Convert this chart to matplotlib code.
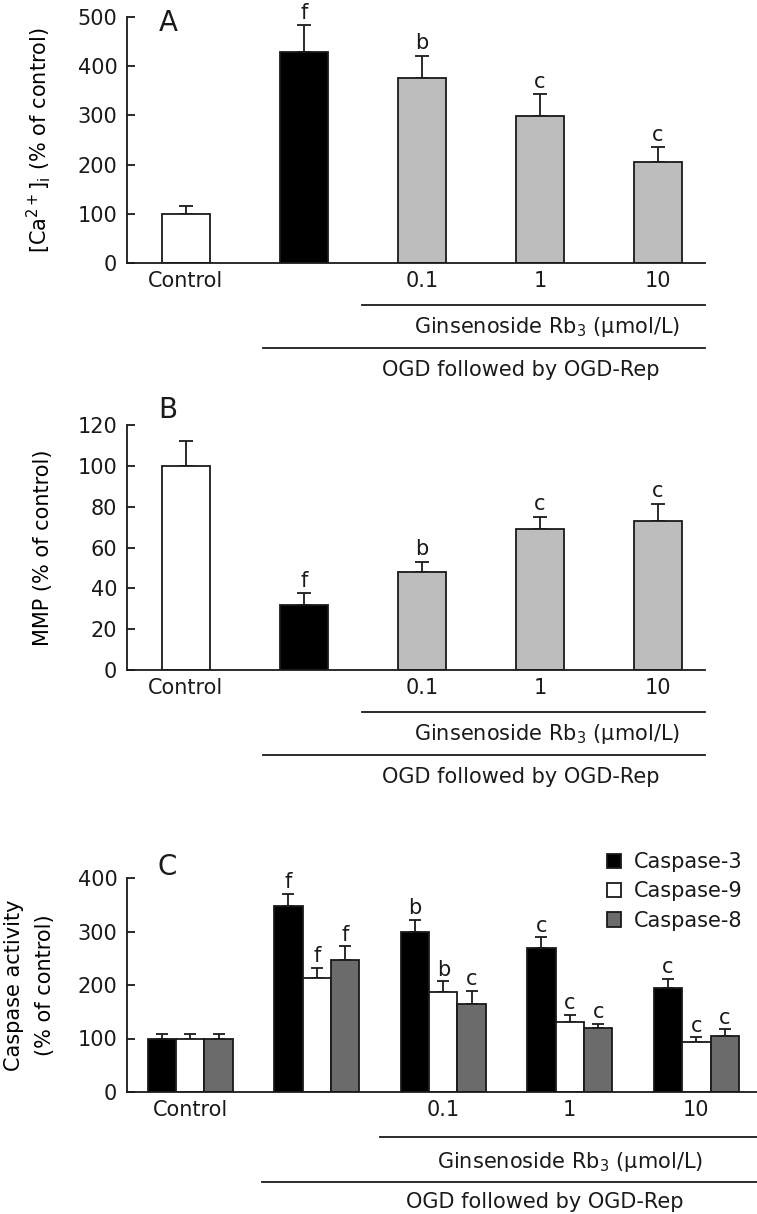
import matplotlib
matplotlib.use('Agg')
import matplotlib.pyplot as plt
from matplotlib.transforms import blended_transform_factory
import numpy as np

plt.rcParams['font.family'] = ['DejaVu Sans']
plt.rcParams['mathtext.fontset'] = 'dejavusans'
plt.rcParams['mathtext.default'] = 'regular'
plt.rcParams['text.color'] = '#1a1a1a'
plt.rcParams['xtick.color'] = '#1a1a1a'
plt.rcParams['ytick.color'] = '#1a1a1a'

W, H = 757, 1214
DPI = 100

# --- data ---
groups = ['Control', '', '0.1', '1', '10']

ca_mean = [99, 428, 376, 299, 205]
ca_err = [17, 55, 45, 44, 30]
ca_sig = ['', 'f', 'b', 'c', 'c']

mmp_mean = [100, 32, 48, 69, 73]
mmp_err = [12, 5.5, 5, 6, 8.5]
mmp_sig = ['', 'f', 'b', 'c', 'c']

casp_names = ['Caspase-3', 'Caspase-9', 'Caspase-8']
casp3 = [100, 347, 300, 270, 194]
casp3_err = [8, 23, 22, 19, 18]
casp3_sig = ['', 'f', 'b', 'c', 'c']
casp9 = [100, 214, 187, 131, 93]
casp9_err = [8, 18, 20, 13, 9]
casp9_sig = ['', 'f', 'b', 'c', 'c']
casp8 = [100, 247, 164, 120, 105]
casp8_err = [8, 25, 25, 8, 12]
casp8_sig = ['', 'f', 'c', 'c', 'c']

single_colors = ['white', 'black', '#bdbdbd', '#bdbdbd', '#bdbdbd']
casp_colors = ['black', 'white', '#6b6b6b']

FS = 15
LW = 1.3
INK = '#1a1a1a'


def px_axes(fig, left, top, right, bottom):
    return fig.add_axes([left / W, 1 - bottom / H, (right - left) / W, (bottom - top) / H])


def style_axes(ax):
    for s in ('top', 'right'):
        ax.spines[s].set_visible(False)
    for s in ('left', 'bottom'):
        ax.spines[s].set_linewidth(LW)
        ax.spines[s].set_color(INK)
    ax.tick_params(axis='y', direction='in', length=6, width=LW, labelsize=FS, pad=7)
    ax.tick_params(axis='x', length=0, labelsize=FS, pad=6)


def bracket_lines(ax, x1, x2, xend, y_line1, y_text1, y_line2, y_text2, xt1, xt2):
    tr = blended_transform_factory(ax.transData, ax.transAxes)
    ax.plot([x1, xend], [y_line1, y_line1], color=INK, lw=LW, transform=tr, clip_on=False)
    ax.plot([x2, xend], [y_line2, y_line2], color=INK, lw=LW, transform=tr, clip_on=False)
    ax.text(xt1, y_text1, r'Ginsenoside Rb$_3$ (μmol/L)', transform=tr, ha='center', va='center',
            fontsize=FS)
    ax.text(xt2, y_text2, 'OGD followed by OGD-Rep', transform=tr, ha='center', va='center',
            fontsize=FS)


def single_panel(ax, means, errs, sigs, ylim, yticks, ylabel, letter, letter_y):
    x = np.arange(len(groups))
    ax.bar(x, means, width=0.41, color=single_colors, edgecolor=INK, linewidth=LW, zorder=2)
    ax.errorbar(x, means, yerr=[np.zeros(len(errs)), errs], fmt='none', ecolor=INK,
                elinewidth=LW, capsize=5, capthick=LW, zorder=1)
    for xi, m, e, s in zip(x, means, errs, sigs):
        if s:
            ax.text(xi, m + e + ylim[1] * 0.01, s, ha='center', va='bottom', fontsize=FS)
    ax.set_xlim(-0.5, 4.4)
    ax.set_ylim(*ylim)
    ax.set_yticks(yticks)
    ax.set_xticks(x)
    ax.set_xticklabels(groups)
    ax.set_ylabel(ylabel, fontsize=FS, labelpad=18)
    ax.text(-0.15, letter_y, letter, ha='center', va='center', fontsize=20, clip_on=False)
    style_axes(ax)
    bracket_lines(ax, 1.49, 0.65, 4.4, -0.172, -0.262, -0.347, -0.435, 3.06, 2.84)


fig = plt.figure(figsize=(W / DPI, H / DPI), dpi=DPI)

# Panel A
axA = px_axes(fig, 127, 17, 705, 263)
single_panel(axA, ca_mean, ca_err, ca_sig, (0, 500), [0, 100, 200, 300, 400, 500],
             r'[Ca$^{2+}$]$_{i}$ (% of control)', 'A', 488)

# Panel B
axB = px_axes(fig, 127, 425, 705, 670)
single_panel(axB, mmp_mean, mmp_err, mmp_sig, (0, 120), [0, 20, 40, 60, 80, 100, 120],
             'MMP (% of control)', 'B', 127.5)

# Panel C
axC = px_axes(fig, 127, 878, 757, 1092)
x = np.arange(len(groups))
bw = 0.225
series = [(casp3, casp3_err, casp3_sig), (casp9, casp9_err, casp9_sig), (casp8, casp8_err, casp8_sig)]
for i, ((vals, errs, sigs), col, name) in enumerate(zip(series, casp_colors, casp_names)):
    xs = x + (i - 1) * bw
    axC.bar(xs, vals, width=bw, color=col, edgecolor=INK, linewidth=LW, zorder=2, label=name)
    axC.errorbar(xs, vals, yerr=[np.zeros(len(errs)), errs], fmt='none', ecolor=INK,
                 elinewidth=LW, capsize=4, capthick=LW, zorder=1)
    for xi, m, e, s in zip(xs, vals, errs, sigs):
        if s:
            axC.text(xi, m + e + 3, s, ha='center', va='bottom', fontsize=FS)
axC.set_xlim(-0.5, 4.48)
axC.set_ylim(0, 400)
axC.set_yticks([0, 100, 200, 300, 400])
axC.set_xticks(x)
axC.set_xticklabels(groups)
axC.set_ylabel('Caspase activity\n(% of control)', fontsize=FS, labelpad=16, linespacing=1.7)
axC.text(-0.18, 420, 'C', ha='center', va='center', fontsize=20, clip_on=False)
style_axes(axC)
bracket_lines(axC, 1.5, 0.57, 4.48, -0.21, -0.327, -0.42, -0.514, 3.0, 2.8)
axC.legend(loc='upper right', bbox_to_anchor=(0.99, 1.16), frameon=False, fontsize=FS,
           handlelength=0.7, handleheight=0.7, handletextpad=0.6, labelspacing=0.45,
           borderaxespad=0)

fig.savefig('out.png', dpi=DPI)
